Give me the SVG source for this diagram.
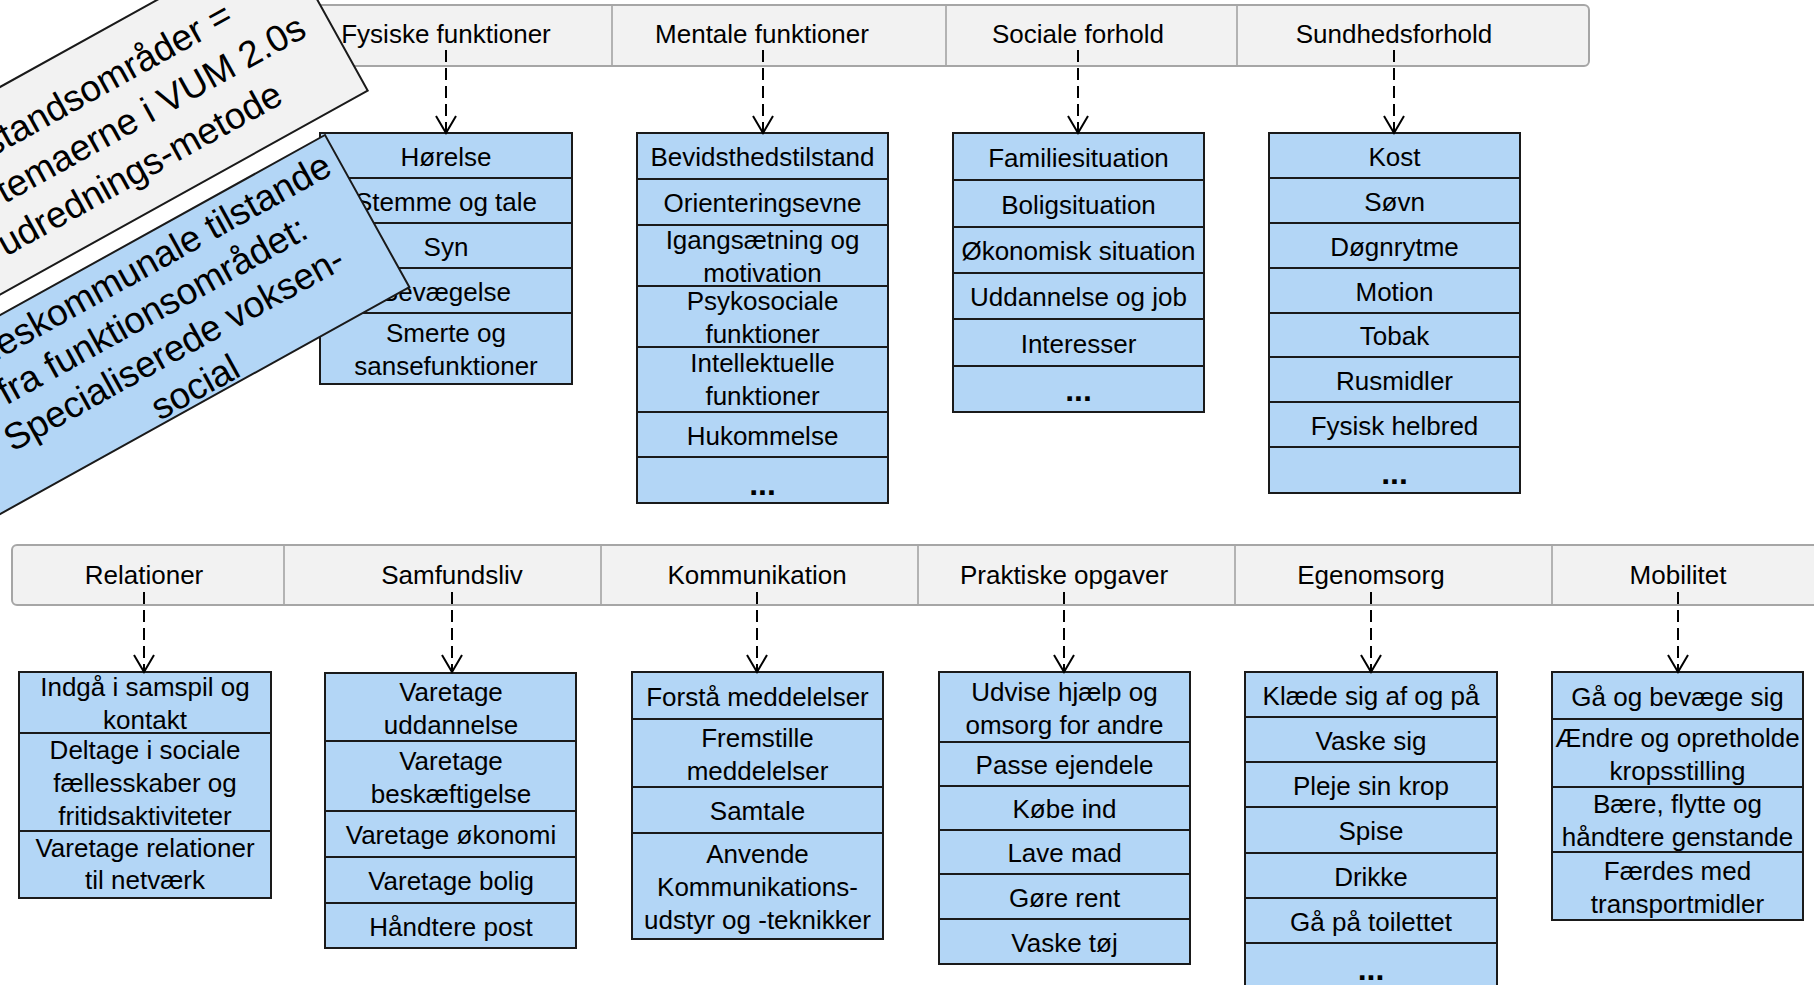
<svg xmlns="http://www.w3.org/2000/svg" width="1814" height="985" viewBox="0 0 1814 985">
<defs>
<style>
text{font-family:"Liberation Sans",Arial,sans-serif;fill:#000}
.t{font-size:26px;text-anchor:middle}
.dots{font-size:32px;font-weight:bold;text-anchor:middle}
.row{fill:#b3d6f6;stroke:#1a1a1a;stroke-width:2}
.bar{fill:#f2f2f2;stroke:#a6a6a6;stroke-width:2}
.div{stroke:#b3b3b3;stroke-width:2}
.con{stroke:#000;stroke-width:2;stroke-dasharray:12 6;fill:none}
.note{font-size:37px;text-anchor:middle}
</style>
<marker id="arr" markerUnits="userSpaceOnUse" viewBox="-20 -12 22 24" refX="0" refY="0" markerWidth="22" markerHeight="24" orient="auto">
<path d="M-17,-10 L0,0 L-17,10" fill="none" stroke="#000" stroke-width="2" stroke-dasharray="none"/>
</marker>
</defs>
<rect x="0" y="0" width="1814" height="985" fill="#fff"/>

<g id="header-top">
<rect class="bar" x="270" y="5" width="1319" height="61" rx="5"/>
<line class="div" x1="612" y1="6" x2="612" y2="65"/>
<line class="div" x1="946" y1="6" x2="946" y2="65"/>
<line class="div" x1="1237" y1="6" x2="1237" y2="65"/>
<text class="t" x="446" y="43">Fysiske funktioner</text>
<text class="t" x="762" y="43">Mentale funktioner</text>
<text class="t" x="1078" y="43">Sociale forhold</text>
<text class="t" x="1394" y="43">Sundhedsforhold</text>
</g>

<g id="header-bottom">
<rect class="bar" x="12" y="545" width="1830" height="60" rx="5"/>
<line class="div" x1="284" y1="546" x2="284" y2="604"/>
<line class="div" x1="601" y1="546" x2="601" y2="604"/>
<line class="div" x1="918" y1="546" x2="918" y2="604"/>
<line class="div" x1="1235" y1="546" x2="1235" y2="604"/>
<line class="div" x1="1552" y1="546" x2="1552" y2="604"/>
<text class="t" x="144" y="584">Relationer</text>
<text class="t" x="452" y="584">Samfundsliv</text>
<text class="t" x="757" y="584">Kommunikation</text>
<text class="t" x="1064" y="584">Praktiske opgaver</text>
<text class="t" x="1371" y="584">Egenomsorg</text>
<text class="t" x="1678" y="584">Mobilitet</text>
</g>

<g id="list-fysiske">
<rect class="row" x="320" y="133" width="252" height="45"/>
<rect class="row" x="320" y="178" width="252" height="45"/>
<rect class="row" x="320" y="223" width="252" height="45"/>
<rect class="row" x="320" y="268" width="252" height="45"/>
<rect class="row" x="320" y="313" width="252" height="71"/>
<text class="t" x="446" y="165.5">Hørelse</text>
<text class="t" x="446" y="210.5">Stemme og tale</text>
<text class="t" x="446" y="255.5">Syn</text>
<text class="t" x="446" y="300.5">Bevægelse</text>
<text class="t" x="446" y="342">Smerte og</text>
<text class="t" x="446" y="375">sansefunktioner</text>
</g>

<g id="list-mentale">
<rect class="row" x="637" y="133" width="251" height="46"/>
<rect class="row" x="637" y="179" width="251" height="46"/>
<rect class="row" x="637" y="225" width="251" height="61"/>
<rect class="row" x="637" y="286" width="251" height="61"/>
<rect class="row" x="637" y="347" width="251" height="65"/>
<rect class="row" x="637" y="412" width="251" height="45"/>
<rect class="row" x="637" y="457" width="251" height="46"/>
<text class="t" x="762.5" y="166">Bevidsthedstilstand</text>
<text class="t" x="762.5" y="212">Orienteringsevne</text>
<text class="t" x="762.5" y="249">Igangsætning og</text>
<text class="t" x="762.5" y="282">motivation</text>
<text class="t" x="762.5" y="310">Psykosociale</text>
<text class="t" x="762.5" y="343">funktioner</text>
<text class="t" x="762.5" y="372">Intellektuelle</text>
<text class="t" x="762.5" y="405">funktioner</text>
<text class="t" x="762.5" y="444.5">Hukommelse</text>
<text class="dots" x="762.5" y="495">...</text>
</g>

<g id="list-sociale">
<rect class="row" x="953" y="133" width="251" height="47"/>
<rect class="row" x="953" y="180" width="251" height="47"/>
<rect class="row" x="953" y="227" width="251" height="46"/>
<rect class="row" x="953" y="273" width="251" height="46"/>
<rect class="row" x="953" y="319" width="251" height="47"/>
<rect class="row" x="953" y="366" width="251" height="46"/>
<text class="t" x="1078.5" y="166.5">Familiesituation</text>
<text class="t" x="1078.5" y="213.5">Boligsituation</text>
<text class="t" x="1078.5" y="260">Økonomisk situation</text>
<text class="t" x="1078.5" y="306">Uddannelse og job</text>
<text class="t" x="1078.5" y="352.5">Interesser</text>
<text class="dots" x="1078.5" y="401">...</text>
</g>

<g id="list-sundhed">
<rect class="row" x="1269" y="133" width="251" height="45"/>
<rect class="row" x="1269" y="178" width="251" height="45"/>
<rect class="row" x="1269" y="223" width="251" height="45"/>
<rect class="row" x="1269" y="268" width="251" height="45"/>
<rect class="row" x="1269" y="313" width="251" height="44"/>
<rect class="row" x="1269" y="357" width="251" height="45"/>
<rect class="row" x="1269" y="402" width="251" height="45"/>
<rect class="row" x="1269" y="447" width="251" height="46"/>
<text class="t" x="1394.5" y="165.5">Kost</text>
<text class="t" x="1394.5" y="210.5">Søvn</text>
<text class="t" x="1394.5" y="255.5">Døgnrytme</text>
<text class="t" x="1394.5" y="300.5">Motion</text>
<text class="t" x="1394.5" y="345">Tobak</text>
<text class="t" x="1394.5" y="389.5">Rusmidler</text>
<text class="t" x="1394.5" y="434.5">Fysisk helbred</text>
<text class="dots" x="1394.5" y="484">...</text>
</g>

<g id="list-relationer">
<rect class="row" x="19" y="672" width="252" height="61"/>
<rect class="row" x="19" y="733" width="252" height="98"/>
<rect class="row" x="19" y="831" width="252" height="67"/>
<text class="t" x="145" y="696">Indgå i samspil og</text>
<text class="t" x="145" y="729">kontakt</text>
<text class="t" x="145" y="759">Deltage i sociale</text>
<text class="t" x="145" y="792">fællesskaber og</text>
<text class="t" x="145" y="825">fritidsaktiviteter</text>
<text class="t" x="145" y="857">Varetage relationer</text>
<text class="t" x="145" y="889">til netværk</text>
</g>

<g id="list-samfundsliv">
<rect class="row" x="325" y="673" width="251" height="68"/>
<rect class="row" x="325" y="741" width="251" height="70"/>
<rect class="row" x="325" y="811" width="251" height="46"/>
<rect class="row" x="325" y="857" width="251" height="46"/>
<rect class="row" x="325" y="903" width="251" height="45"/>
<text class="t" x="451" y="700.5">Varetage</text>
<text class="t" x="451" y="733.5">uddannelse</text>
<text class="t" x="451" y="769.5">Varetage</text>
<text class="t" x="451" y="802.5">beskæftigelse</text>
<text class="t" x="451" y="844">Varetage økonomi</text>
<text class="t" x="451" y="890">Varetage bolig</text>
<text class="t" x="451" y="935.5">Håndtere post</text>
</g>

<g id="list-kommunikation">
<rect class="row" x="632" y="672" width="251" height="47"/>
<rect class="row" x="632" y="719" width="251" height="68"/>
<rect class="row" x="632" y="787" width="251" height="46"/>
<rect class="row" x="632" y="833" width="251" height="106"/>
<text class="t" x="757.5" y="705.5">Forstå meddelelser</text>
<text class="t" x="757.5" y="746.5">Fremstille</text>
<text class="t" x="757.5" y="779.5">meddelelser</text>
<text class="t" x="757.5" y="820">Samtale</text>
<text class="t" x="757.5" y="863">Anvende</text>
<text class="t" x="757.5" y="896">Kommunikations-</text>
<text class="t" x="757.5" y="929">udstyr og -teknikker</text>
</g>

<g id="list-praktiske">
<rect class="row" x="939" y="672" width="251" height="70"/>
<rect class="row" x="939" y="742" width="251" height="44"/>
<rect class="row" x="939" y="786" width="251" height="44"/>
<rect class="row" x="939" y="830" width="251" height="44"/>
<rect class="row" x="939" y="874" width="251" height="45"/>
<rect class="row" x="939" y="919" width="251" height="45"/>
<text class="t" x="1064.5" y="700.5">Udvise hjælp og</text>
<text class="t" x="1064.5" y="733.5">omsorg for andre</text>
<text class="t" x="1064.5" y="774">Passe ejendele</text>
<text class="t" x="1064.5" y="818">Købe ind</text>
<text class="t" x="1064.5" y="862">Lave mad</text>
<text class="t" x="1064.5" y="906.5">Gøre rent</text>
<text class="t" x="1064.5" y="951.5">Vaske tøj</text>
</g>

<g id="list-egenomsorg">
<rect class="row" x="1245" y="672" width="252" height="45"/>
<rect class="row" x="1245" y="717" width="252" height="45"/>
<rect class="row" x="1245" y="762" width="252" height="45"/>
<rect class="row" x="1245" y="807" width="252" height="46"/>
<rect class="row" x="1245" y="853" width="252" height="45"/>
<rect class="row" x="1245" y="898" width="252" height="45"/>
<rect class="row" x="1245" y="943" width="252" height="47"/>
<text class="t" x="1371" y="704.5">Klæde sig af og på</text>
<text class="t" x="1371" y="749.5">Vaske sig</text>
<text class="t" x="1371" y="794.5">Pleje sin krop</text>
<text class="t" x="1371" y="840">Spise</text>
<text class="t" x="1371" y="885.5">Drikke</text>
<text class="t" x="1371" y="930.5">Gå på toilettet</text>
<text class="dots" x="1371" y="980">...</text>
</g>

<g id="list-mobilitet">
<rect class="row" x="1552" y="672" width="251" height="47"/>
<rect class="row" x="1552" y="719" width="251" height="68"/>
<rect class="row" x="1552" y="787" width="251" height="65"/>
<rect class="row" x="1552" y="852" width="251" height="68"/>
<text class="t" x="1677.5" y="705.5">Gå og bevæge sig</text>
<text class="t" x="1677.5" y="746.5">Ændre og opretholde</text>
<text class="t" x="1677.5" y="779.5">kropsstilling</text>
<text class="t" x="1677.5" y="813">Bære, flytte og</text>
<text class="t" x="1677.5" y="846">håndtere genstande</text>
<text class="t" x="1677.5" y="879.5">Færdes med</text>
<text class="t" x="1677.5" y="912.5">transportmidler</text>
</g>

<g id="connectors">
<line class="con" x1="446" y1="50" x2="446" y2="133" marker-end="url(#arr)"/>
<line class="con" x1="763" y1="50" x2="763" y2="133" marker-end="url(#arr)"/>
<line class="con" x1="1078" y1="50" x2="1078" y2="133" marker-end="url(#arr)"/>
<line class="con" x1="1394" y1="50" x2="1394" y2="133" marker-end="url(#arr)"/>
<line class="con" x1="144" y1="592" x2="144" y2="672" marker-end="url(#arr)"/>
<line class="con" x1="452" y1="592" x2="452" y2="672" marker-end="url(#arr)"/>
<line class="con" x1="757" y1="592" x2="757" y2="672" marker-end="url(#arr)"/>
<line class="con" x1="1064" y1="592" x2="1064" y2="672" marker-end="url(#arr)"/>
<line class="con" x1="1371" y1="592" x2="1371" y2="672" marker-end="url(#arr)"/>
<line class="con" x1="1678" y1="592" x2="1678" y2="672" marker-end="url(#arr)"/>
</g>

<g id="note-tilstandsomraader" transform="translate(367.7,90.7) rotate(-29)">
<rect x="-520" y="-181.5" width="520" height="181.5" fill="#f2f2f2" stroke="#1a1a1a" stroke-width="2"/>
<text class="note" style="text-anchor:end" x="-83" y="-124">Tilstandsområder =</text>
<text class="note" style="text-anchor:end" x="-25" y="-77">temaerne i VUM 2.0s</text>
<text class="note" style="text-anchor:end" x="-78" y="-30">udrednings-metode</text>
</g>

<g id="note-faelleskommunale" transform="translate(325,135) rotate(-29)">
<rect x="-472" y="0" width="472" height="174" fill="#b3d6f6" stroke="#1a1a1a" stroke-width="2"/>
<text class="note" x="-236" y="38">Fælleskommunale tilstande</text>
<text class="note" x="-236" y="82">fra funktionsområdet:</text>
<text class="note" x="-236" y="126">Specialiserede voksen-</text>
<text class="note" x="-236" y="170">social</text>
</g>
</svg>
